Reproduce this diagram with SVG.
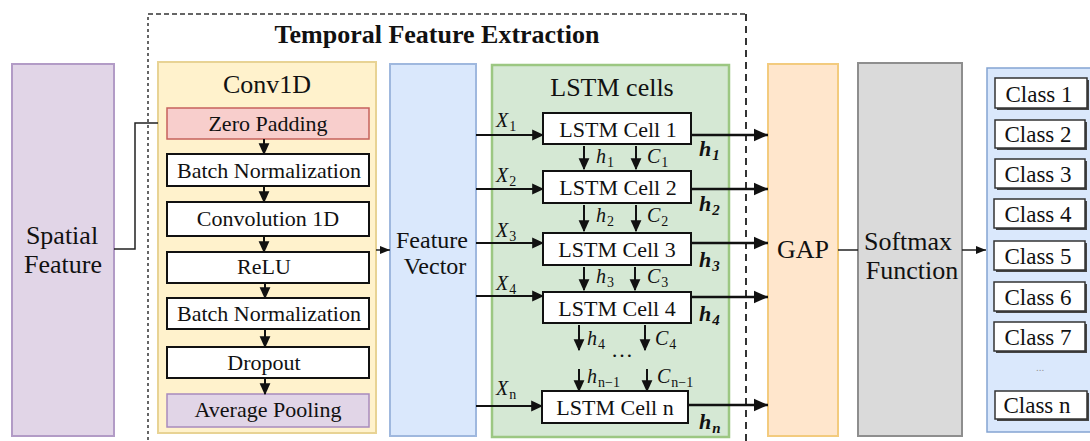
<svg xmlns="http://www.w3.org/2000/svg" width="1090" height="441" viewBox="0 0 1090 441" font-family="'Liberation Serif', serif">
  <defs>
    <style>
      text { font-family: 'Liberation Serif', serif; fill: #111; }
      .c { text-anchor: middle; }
      .t26 { font-size: 26px; }
      .t24 { font-size: 24px; }
      .t22 { font-size: 22px; }
      .t23 { font-size: 23px; }
      .title { font-size: 26px; font-weight: bold; }
      .math { font-size: 20px; font-style: italic; }
      .sub { font-size: 14px; font-style: normal; }
      .hb { font-size: 22px; font-style: italic; font-weight: bold; }
      .hbs { font-size: 15px; }
      .step { fill: #ffffff; stroke: #111; stroke-width: 2; }
      .cell { fill: #ffffff; stroke: #111; stroke-width: 2; }
      .cls { fill: #ffffff; stroke: #333; stroke-width: 1.5; }
      .shadow { fill: #444; }
      .wire { fill: none; stroke: #111; stroke-width: 2; }
      .thin { fill: none; stroke: #222; stroke-width: 1.5; }
      .thick { fill: none; stroke: #111; stroke-width: 2.5; }
    </style>
    <!-- arrowheads sized in user units so they stay independent of stroke width -->
    <marker id="ah" viewBox="0 0 10 10" refX="9" refY="5" markerWidth="12" markerHeight="12" markerUnits="userSpaceOnUse" orient="auto">
      <path d="M0,0.5 L10,5 L0,9.5 z" fill="#111"/>
    </marker>
    <marker id="ahS" viewBox="0 0 10 10" refX="10" refY="5" markerWidth="10" markerHeight="10" markerUnits="userSpaceOnUse" orient="auto">
      <path d="M0,1 L10,5 L0,9 z" fill="#111"/>
    </marker>
    <marker id="ahL" viewBox="0 0 10 10" refX="10" refY="5" markerWidth="14" markerHeight="14" markerUnits="userSpaceOnUse" orient="auto">
      <path d="M0,0.5 L10,5 L0,9.5 z" fill="#111"/>
    </marker>
  </defs>

  <!-- dashed frame of the temporal block -->
  <g id="temporal-frame">
    <path d="M148,440 L148,14" fill="none" stroke="#333" stroke-width="1.5" stroke-dasharray="3 3"/>
    <path d="M148,14 L746,14" fill="none" stroke="#333" stroke-width="1.5" stroke-dasharray="5 3"/>
    <path d="M746,14 L746,441" fill="none" stroke="#333" stroke-width="2" stroke-dasharray="7 5"/>
    <text class="title c" x="437" y="43">Temporal Feature Extraction</text>
  </g>

  <!-- input -->
  <g id="spatial-feature">
    <rect x="12" y="64" width="102" height="372" fill="#e1d5e7" stroke="#b29bc6" stroke-width="2"/>
    <text class="t26 c" x="62" y="244">Spatial</text>
    <text class="t26 c" x="63" y="273">Feature</text>
  </g>

  <!-- Conv1D block -->
  <g id="conv1d">
    <rect x="158" y="62" width="218" height="371" fill="#fff2cc" stroke="#e8d394" stroke-width="2"/>
    <text class="t26 c" x="267" y="93">Conv1D</text>
  </g>
  <g id="zero-padding">
    <rect x="167" y="108" width="202" height="31" fill="#f8cecc" stroke="#c6625c" stroke-width="1.5"/>
    <text class="t22 c" x="268" y="131">Zero Padding</text>
  </g>
  <g id="batch-norm-1">
    <rect class="step" x="167" y="154" width="202" height="32"/>
    <text class="t22 c" x="269" y="178">Batch Normalization</text>
  </g>
  <g id="convolution-1d">
    <rect class="step" x="167" y="202" width="202" height="34"/>
    <text class="t22 c" x="268" y="226">Convolution 1D</text>
  </g>
  <g id="relu">
    <rect class="step" x="167" y="252" width="202" height="31"/>
    <text class="t22 c" x="264" y="274">ReLU</text>
  </g>
  <g id="batch-norm-2">
    <rect class="step" x="167" y="298" width="202" height="31"/>
    <text class="t22 c" x="269" y="321">Batch Normalization</text>
  </g>
  <g id="dropout">
    <rect class="step" x="167" y="347" width="202" height="31"/>
    <text class="t22 c" x="264" y="370">Dropout</text>
  </g>
  <g id="average-pooling">
    <rect x="167" y="394" width="202" height="33" fill="#e1d5e7" stroke="#a88bbd" stroke-width="1.5"/>
    <text class="t22 c" x="268" y="417">Average Pooling</text>
  </g>

  <!-- feature vector -->
  <g id="feature-vector">
    <rect x="390" y="64" width="86" height="372" fill="#dae8fc" stroke="#9fb8de" stroke-width="2"/>
    <text class="t24 c" x="432" y="248">Feature</text>
    <text class="t24 c" x="435" y="274">Vector</text>
  </g>

  <!-- LSTM block -->
  <g id="lstm-cells">
    <rect x="492" y="65" width="237" height="372" fill="#d5e8d4" stroke="#9cc782" stroke-width="2.5"/>
    <text class="t26 c" x="612" y="96">LSTM cells</text>
  </g>
  <g id="lstm-cell-1">
    <rect class="cell" x="543" y="113" width="148" height="31"/>
    <text class="t22 c" x="618" y="137">LSTM Cell 1</text>
  </g>
  <g id="lstm-cell-2">
    <rect class="cell" x="543" y="171" width="148" height="32"/>
    <text class="t22 c" x="618" y="195">LSTM Cell 2</text>
  </g>
  <g id="lstm-cell-3">
    <rect class="cell" x="543" y="233" width="148" height="32"/>
    <text class="t22 c" x="617" y="257">LSTM Cell 3</text>
  </g>
  <g id="lstm-cell-4">
    <rect class="cell" x="543" y="292" width="148" height="31"/>
    <text class="t22 c" x="617" y="316">LSTM Cell 4</text>
  </g>
  <g id="lstm-cell-n">
    <rect class="cell" x="542" y="391" width="146" height="32"/>
    <text class="t22 c" x="615" y="415">LSTM Cell n</text>
  </g>

  <!-- GAP and softmax -->
  <g id="gap">
    <rect x="768" y="64" width="70" height="372" fill="#ffe6cc" stroke="#f3cb7e" stroke-width="2"/>
    <text class="t26 c" x="803" y="258">GAP</text>
  </g>
  <g id="softmax">
    <rect x="858" y="63" width="104" height="373" fill="#dadada" stroke="#8e8e8e" stroke-width="2"/>
    <text class="t26 c" x="908" y="250">Softmax</text>
    <text class="t26 c" x="912" y="279">Function</text>
  </g>

  <!-- output classes -->
  <g id="classes">
    <rect x="987" y="68" width="110" height="364" fill="#dae8fc" stroke="#84a4d2" stroke-width="1.5"/>
    <text x="1040" y="371" font-size="11" style="fill:#999" class="c">...</text>
  </g>
  <g id="class-1">
    <rect class="shadow" x="997" y="80" width="92" height="30"/>
    <rect class="cls" x="995" y="78" width="92" height="30"/>
    <text class="t23 c" x="1039" y="102">Class 1</text>
  </g>
  <g id="class-2">
    <rect class="shadow" x="997" y="122" width="90" height="28"/>
    <rect class="cls" x="995" y="120" width="90" height="28"/>
    <text class="t23 c" x="1038" y="142">Class 2</text>
  </g>
  <g id="class-3">
    <rect class="shadow" x="997" y="161" width="90" height="29"/>
    <rect class="cls" x="995" y="159" width="90" height="29"/>
    <text class="t23 c" x="1038" y="182">Class 3</text>
  </g>
  <g id="class-4">
    <rect class="shadow" x="996" y="201" width="91" height="29"/>
    <rect class="cls" x="994" y="199" width="91" height="29"/>
    <text class="t23 c" x="1038" y="222">Class 4</text>
  </g>
  <g id="class-5">
    <rect class="shadow" x="996" y="243" width="91" height="29"/>
    <rect class="cls" x="994" y="241" width="91" height="29"/>
    <text class="t23 c" x="1038" y="264">Class 5</text>
  </g>
  <g id="class-6">
    <rect class="shadow" x="996" y="284" width="91" height="29"/>
    <rect class="cls" x="994" y="282" width="91" height="29"/>
    <text class="t23 c" x="1038" y="305">Class 6</text>
  </g>
  <g id="class-7">
    <rect class="shadow" x="996" y="324" width="91" height="29"/>
    <rect class="cls" x="994" y="322" width="91" height="29"/>
    <text class="t23 c" x="1038" y="345">Class 7</text>
  </g>
  <g id="class-n">
    <rect class="shadow" x="997" y="393" width="92" height="28"/>
    <rect class="cls" x="995" y="391" width="92" height="28"/>
    <text class="t23 c" x="1037" y="413">Class n</text>
  </g>

  <!-- connectors -->
  <g id="connectors">
    <polyline class="thin" points="114,249 135,249 135,123 158,123"/>
    <!-- conv1d pipeline -->
    <line class="wire" x1="264" y1="139" x2="264" y2="154" marker-end="url(#ah)"/>
    <line class="wire" x1="264" y1="186" x2="264" y2="202" marker-end="url(#ah)"/>
    <line class="wire" x1="264" y1="236" x2="264" y2="252" marker-end="url(#ah)"/>
    <line class="wire" x1="265" y1="283" x2="265" y2="298" marker-end="url(#ah)"/>
    <line class="wire" x1="265" y1="329" x2="265" y2="347" marker-end="url(#ah)"/>
    <line class="wire" x1="265" y1="378" x2="265" y2="394" marker-end="url(#ah)"/>
    <line class="thin" x1="376" y1="250" x2="390" y2="250" marker-end="url(#ahS)"/>

    <!-- inputs to cells -->
    <line class="wire" x1="476" y1="135" x2="543" y2="135" marker-end="url(#ah)"/>
    <line class="wire" x1="476" y1="189" x2="543" y2="189" marker-end="url(#ah)"/>
    <line class="wire" x1="476" y1="243" x2="543" y2="243" marker-end="url(#ah)"/>
    <line class="wire" x1="476" y1="296" x2="543" y2="296" marker-end="url(#ah)"/>
    <line class="wire" x1="476" y1="406" x2="542" y2="406" marker-end="url(#ah)"/>

    <!-- hidden/cell state hand-off -->
    <line class="wire" x1="584" y1="146" x2="584" y2="169" marker-end="url(#ah)"/>
    <line class="wire" x1="636" y1="146" x2="636" y2="169" marker-end="url(#ah)"/>
    <line class="wire" x1="584" y1="205" x2="584" y2="231" marker-end="url(#ah)"/>
    <line class="wire" x1="636" y1="205" x2="636" y2="231" marker-end="url(#ah)"/>
    <line class="wire" x1="584" y1="267" x2="584" y2="290" marker-end="url(#ah)"/>
    <line class="wire" x1="635" y1="267" x2="635" y2="290" marker-end="url(#ah)"/>
    <line class="wire" x1="579" y1="325" x2="579" y2="350" marker-end="url(#ah)"/>
    <line class="wire" x1="645" y1="325" x2="645" y2="350" marker-end="url(#ah)"/>
    <line class="wire" x1="579" y1="369" x2="579" y2="391" marker-end="url(#ah)"/>
    <line class="wire" x1="647" y1="369" x2="647" y2="391" marker-end="url(#ah)"/>

    <!-- outputs to GAP -->
    <line class="thick" x1="691" y1="135" x2="768" y2="135" marker-end="url(#ahL)"/>
    <line class="thick" x1="691" y1="189" x2="768" y2="189" marker-end="url(#ahL)"/>
    <line class="thick" x1="691" y1="243" x2="768" y2="243" marker-end="url(#ahL)"/>
    <line class="thick" x1="691" y1="297" x2="768" y2="297" marker-end="url(#ahL)"/>
    <line class="thick" x1="688" y1="405" x2="768" y2="405" marker-end="url(#ahL)"/>

    <line class="thin" x1="838" y1="250" x2="858" y2="250"/>
    <line class="thin" x1="962" y1="250" x2="986" y2="250" marker-end="url(#ahS)"/>

    <!-- connector labels -->
    <text class="math" x="496" y="127">X<tspan class="sub" dx="1" dy="4">1</tspan></text>
    <text class="math" x="496" y="182">X<tspan class="sub" dx="1" dy="4">2</tspan></text>
    <text class="math" x="496" y="237">X<tspan class="sub" dx="1" dy="4">3</tspan></text>
    <text class="math" x="496" y="290">X<tspan class="sub" dx="1" dy="4">4</tspan></text>
    <text class="math" x="496" y="395">X<tspan class="sub" dx="1" dy="4">n</tspan></text>

    <text class="math" x="596" y="163">h<tspan class="sub" dx="1" dy="4">1</tspan></text>
    <text class="math" x="647" y="163">C<tspan class="sub" dx="1" dy="4">1</tspan></text>
    <text class="math" x="596" y="222">h<tspan class="sub" dx="1" dy="4">2</tspan></text>
    <text class="math" x="647" y="222">C<tspan class="sub" dx="1" dy="4">2</tspan></text>
    <text class="math" x="596" y="283">h<tspan class="sub" dx="1" dy="4">3</tspan></text>
    <text class="math" x="647" y="283">C<tspan class="sub" dx="1" dy="4">3</tspan></text>
    <text class="math" x="587" y="345">h<tspan class="sub" dx="1" dy="4">4</tspan></text>
    <text class="math" x="655" y="345">C<tspan class="sub" dx="1" dy="4">4</tspan></text>
    <text class="t22" x="611" y="357">…</text>
    <text class="math" x="587" y="383">h<tspan class="sub" dx="1" dy="4">n−1</tspan></text>
    <text class="math" x="657" y="383">C<tspan class="sub" dx="1" dy="4">n−1</tspan></text>

    <text class="hb" x="699" y="156">h<tspan class="hbs" dx="1" dy="4">1</tspan></text>
    <text class="hb" x="699" y="211">h<tspan class="hbs" dx="1" dy="4">2</tspan></text>
    <text class="hb" x="699" y="267">h<tspan class="hbs" dx="1" dy="4">3</tspan></text>
    <text class="hb" x="699" y="321">h<tspan class="hbs" dx="1" dy="4">4</tspan></text>
    <text class="hb" x="699" y="429">h<tspan class="hbs" dx="1" dy="4">n</tspan></text>
  </g>
</svg>
